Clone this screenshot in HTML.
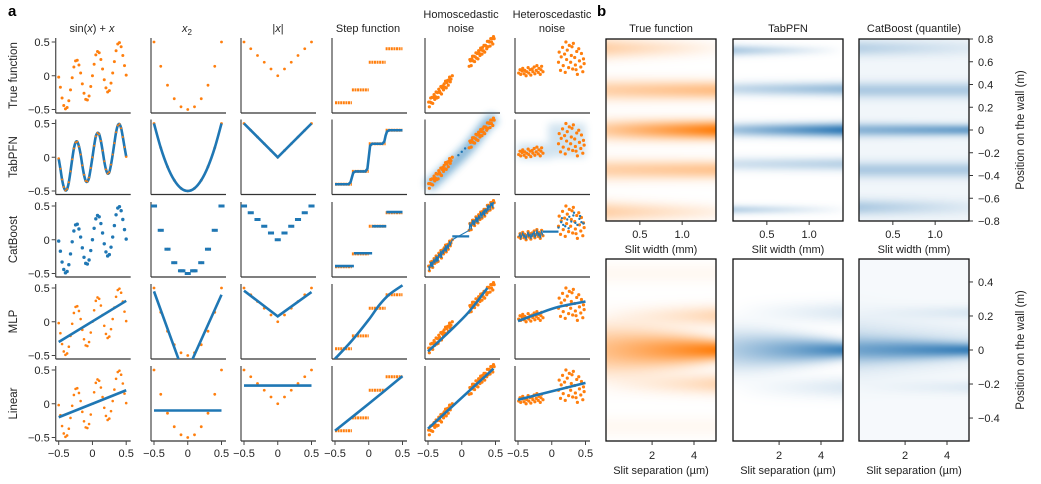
<!DOCTYPE html>
<html><head><meta charset="utf-8"><style>
body{margin:0;background:#fff;}
#wrap{position:relative;width:1041px;height:484px;overflow:hidden;font-family:"Liberation Sans",sans-serif;}
canvas{position:absolute;}
svg{position:absolute;left:0;top:0;}
</style></head><body>
<div id="wrap">
<canvas id="h0" width="110" height="182" style="left:606px;top:39px"></canvas>
<canvas id="h1" width="110" height="182" style="left:733px;top:39px"></canvas>
<canvas id="h2" width="110" height="182" style="left:859px;top:39px"></canvas>
<canvas id="h3" width="110" height="182" style="left:606px;top:259px"></canvas>
<canvas id="h4" width="110" height="182" style="left:733px;top:259px"></canvas>
<canvas id="h5" width="110" height="182" style="left:859px;top:259px"></canvas>
<svg id="s" width="1041" height="484" viewBox="0 0 1041 484"></svg>
</div>
<script>
// ---------- data: panel a ----------
const sinY=[-0.02,-0.17,-0.33,-0.44,-0.49,-0.47,-0.37,-0.21,-0.03,0.13,0.22,0.23,0.16,0.04,-0.12,-0.26,-0.35,-0.36,-0.30,-0.16,0.00,0.17,0.31,0.36,0.34,0.24,0.10,-0.06,-0.18,-0.24,-0.22,-0.11,0.04,0.21,0.37,0.47,0.49,0.43,0.30,0.15,0.01];
const gridX=[-0.5,-0.4,-0.3,-0.2,-0.1,0,0.1,0.2,0.3,0.4,0.5];
const sqY=[0.5,0.14,-0.14,-0.34,-0.46,-0.5,-0.46,-0.34,-0.14,0.14,0.5];
const absY=[0.5,0.4,0.3,0.2,0.1,0,0.1,0.2,0.3,0.4,0.5];
const stepEdges=[-0.5,-0.25,0,0.25,0.5];
const stepLevels=[-0.4,-0.21,0.2,0.4];
const homoX=[-0.49,-0.48,-0.47,-0.46,-0.45,-0.44,-0.43,-0.42,-0.41,-0.40,-0.39,-0.38,-0.37,-0.36,-0.35,-0.34,-0.33,-0.32,-0.31,-0.30,-0.29,-0.28,-0.27,-0.26,-0.25,-0.24,-0.23,-0.22,-0.21,-0.20,-0.19,-0.18,-0.17,-0.16,-0.14,0.11,0.12,0.13,0.14,0.15,0.16,0.17,0.18,0.19,0.20,0.21,0.22,0.23,0.24,0.25,0.26,0.27,0.28,0.29,0.30,0.31,0.32,0.33,0.34,0.35,0.36,0.37,0.38,0.39,0.40,0.41,0.42,0.43,0.44,0.45,0.46,0.47,0.48];
const homoY=[-0.39,-0.46,-0.39,-0.33,-0.40,-0.32,-0.41,-0.32,-0.28,-0.35,-0.31,-0.24,-0.33,-0.25,-0.32,-0.20,-0.23,-0.25,-0.16,-0.27,-0.18,-0.15,-0.21,-0.12,-0.17,-0.08,-0.18,-0.10,-0.07,-0.14,-0.06,-0.02,-0.09,-0.05,0.00,0.14,0.24,0.22,0.15,0.25,0.29,0.22,0.29,0.21,0.28,0.34,0.26,0.33,0.25,0.37,0.33,0.30,0.41,0.38,0.32,0.42,0.37,0.45,0.35,0.45,0.44,0.40,0.51,0.43,0.51,0.50,0.44,0.55,0.50,0.55,0.47,0.58,0.55];
const hetX=[-0.49,-0.47,-0.46,-0.44,-0.43,-0.41,-0.40,-0.38,-0.37,-0.35,-0.34,-0.32,-0.31,-0.29,-0.28,-0.26,-0.25,-0.23,-0.22,-0.20,-0.19,-0.17,-0.16,-0.15,-0.13,0.10,0.11,0.13,0.14,0.16,0.17,0.19,0.20,0.22,0.23,0.25,0.26,0.28,0.29,0.31,0.32,0.34,0.35,0.37,0.38,0.40,0.41,0.43,0.44,0.46,0.47,0.48,0.30,0.21,0.36];
const hetY=[0.04,0.09,0.02,0.07,0.11,0.03,0.08,0.00,0.06,0.12,0.04,0.09,0.01,0.10,0.06,0.13,0.03,0.08,0.15,0.05,0.11,0.02,0.09,0.14,0.06,0.20,0.35,0.08,0.28,0.42,0.15,0.32,0.05,0.24,0.38,0.12,0.45,0.20,0.30,0.10,0.48,0.27,0.16,0.36,0.02,0.40,0.22,0.13,0.33,0.06,0.25,0.18,0.43,0.50,0.09];
const catHetX=[0.10,0.14,0.17,0.20,0.23,0.26,0.29,0.32,0.35,0.38,0.41,0.44,0.47,0.15,0.25,0.33,0.42];
const catHetY=[0.18,0.26,0.22,0.20,0.30,0.34,0.27,0.36,0.25,0.22,0.31,0.26,0.24,0.32,0.17,0.40,0.35];
const tabStepX=[-0.5,-0.3,-0.27,-0.25,-0.23,-0.2,-0.05,-0.02,0,0.02,0.05,0.2,0.23,0.25,0.27,0.3,0.5];
const tabStepY=[-0.4,-0.4,-0.37,-0.3,-0.23,-0.21,-0.21,-0.17,0,0.17,0.2,0.2,0.23,0.32,0.38,0.4,0.4];
const catStepEdges=[-0.5,-0.22,0.05,0.26,0.5];
const catStepLevels=[-0.39,-0.2,0.2,0.41];
const mlpSinX=[-0.5,0.5], mlpSinY=[-0.3,0.31];
const linSinX=[-0.5,0.5], linSinY=[-0.2,0.2];
const mlpSqX=[-0.5,-0.12,0.05,0.5], mlpSqY=[0.45,-0.6,-0.6,0.4];
const linSqX=[-0.5,0.5], linSqY=[-0.1,-0.1];
const mlpAbsX=[-0.5,0,0.5], mlpAbsY=[0.46,0.08,0.44];
const linAbsX=[-0.5,0.5], linAbsY=[0.27,0.27];
const mlpStepX=[-0.5,-0.25,0,0.15,0.3,0.5], mlpStepY=[-0.55,-0.28,0.03,0.24,0.40,0.54];
const linStepX=[-0.5,0,0.5], linStepY=[-0.4,0.0,0.41];
const mlpHomoX=[-0.5,-0.2,0.1,0.38], mlpHomoY=[-0.44,-0.16,0.14,0.5];
const linHomoX=[-0.5,0.47], linHomoY=[-0.37,0.52];
const mlpHetX=[-0.5,-0.2,0.1,0.5], mlpHetY=[0.01,0.12,0.22,0.30];
const linHetX=[-0.5,0.5], linHetY=[0.06,0.31];
const xTicks=[-0.5,0,0.5], xTickLabels=["\u22120.5","0","0.5"];
const yTicks=[0.5,0,-0.5], yTickLabels=["0.5","0","\u22120.5"];
const rowNames=["True function","TabPFN","CatBoost","MLP","Linear"];

// ---------- data: panel b ----------
const topPos=[[0.72,0.35,0,-0.35,-0.72],[0.70,0.36,0,-0.30,-0.70],[0.72,0.35,0,-0.35,-0.68]];
const topAmpL=[[0.35,0.35,0.4,0.35,0.35],[0.35,0.25,0.4,0.2,0.3],[0.25,0.3,0.45,0.3,0.3]];
const topAmpR=[[0.05,0.5,1.0,0.45,0.1],[0.0,0.45,0.9,0.3,0.02],[0.08,0.3,0.6,0.3,0.08]];
const topWL=[[0.09,0.09,0.09,0.09,0.09],[0.05,0.06,0.06,0.06,0.04],[0.07,0.07,0.06,0.07,0.07]];
const topWR=[[0.07,0.08,0.08,0.08,0.07],[0.04,0.06,0.06,0.06,0.04],[0.07,0.07,0.05,0.07,0.07]];
const botPos=[[0,0.2,-0.2,0.45,-0.45],[0,0.22,-0.22],[0,0.02,0.22,-0.22]];
const botAmpL=[[0.5,0,0,0.05,0.05],[0.35,0.0,0.0],[0.4,0.2,0.0,0.0]];
const botAmpR=[[1.0,0.3,0.3,0.05,0.05],[0.85,0.15,0.15],[0.7,0.15,0.12,0.1]];
const botWL=[[0.14,0.06,0.06,0.06,0.06],[0.12,0.06,0.06],[0.07,0.16,0.04,0.04]];
const botWR=[[0.06,0.06,0.06,0.06,0.06],[0.05,0.06,0.06],[0.04,0.1,0.04,0.04]];
const heatBg=[0,0,0.06,0,0,0.04];
const topYTicks=[0.8,0.6,0.4,0.2,0,-0.2,-0.4,-0.6,-0.8];
const topYLabels=["0.8","0.6","0.4","0.2","0","\u22120.2","\u22120.4","\u22120.6","\u22120.8"];
const botYTicks=[0.4,0.2,0,-0.2,-0.4];
const botYLabels=["0.4","0.2","0","\u22120.2","\u22120.4"];
const widthTicks=[0.5,1.0], widthLabels=["0.5","1.0"];
const sepTicks=[2,4], sepLabels=["2","4"];

const OR="#ff7f0e", BL="#1f77b4";
const X0=[58.7,154,244,335,428,518], Y0=[42,123.5,206,288,370];
const sx=(c,v)=>X0[c]+(v+0.5)*67.5;
const sy=(r,v)=>Y0[r]+(0.5-v)*67.5;
const S=document.getElementById('s');
const NS="http://www.w3.org/2000/svg";
function el(tag,attrs,parent){const e=document.createElementNS(NS,tag);for(const k in attrs)e.setAttribute(k,attrs[k]);(parent||S).appendChild(e);return e;}
function txt(x,y,s,size,anchor,extra){const t=el('text',Object.assign({x:x,y:y,'font-size':size,'text-anchor':anchor||'middle',fill:'#222'},extra||{}));t.textContent=s;return t;}
function linX(n){const a=[];for(let i=0;i<n;i++)a.push(-0.5+i/(n-1));return a;}
const sinX=linX(sinY.length);

function smoothPath(c,r,xs,ys){const p=xs.map((x,i)=>[sx(c,x),sy(r,ys[i])]);let d="M"+p[0][0]+","+p[0][1];for(let i=0;i<p.length-1;i++){const p0=p[Math.max(0,i-1)],p1=p[i],p2=p[i+1],p3=p[Math.min(p.length-1,i+2)];d+=" C"+(p1[0]+(p2[0]-p0[0])/6)+","+(p1[1]+(p2[1]-p0[1])/6)+" "+(p2[0]-(p3[0]-p1[0])/6)+","+(p2[1]-(p3[1]-p1[1])/6)+" "+p2[0]+","+p2[1];}return d;}
function line(c,r,xs,ys,name,w){const g=el('g',{'clip-path':'url(#clip'+c+'_'+r+')'});const p=el('path',{d:smoothPath(c,r,xs,ys),fill:'none',stroke:BL,'stroke-width':w||2.6,'stroke-linejoin':'round'},g);

}
function poly(c,r,xs,ys,name,w){const g=el('g',{'clip-path':'url(#clip'+c+'_'+r+')'});const p=el('polyline',{points:xs.map((x,i)=>sx(c,x)+","+sy(r,ys[i])).join(" "),fill:'none',stroke:BL,'stroke-width':w||2.6},g);

}
function dots(c,r,xs,ys,col,rad,name){const g=el('g',{});


xs.forEach((x,i)=>el('circle',{cx:sx(c,x),cy:sy(r,ys[i]),r:rad,fill:col},g));}
function dashes(c,r,xs,ys,half,name){const g=el('g',{});


xs.forEach((x,i)=>el('line',{x1:sx(c,x-half),x2:sx(c,x+half),y1:sy(r,ys[i]),y2:sy(r,ys[i]),stroke:BL,'stroke-width':3},g));}
function steps(c,r,edges,levels,col,name,dash){const g=el('g',{});


levels.forEach((l,i)=>el('line',{x1:sx(c,edges[i]),x2:sx(c,edges[i+1]),y1:sy(r,l),y2:sy(r,l),stroke:col,'stroke-width':dash?3:2.6,'stroke-dasharray':dash?'2 0.6':'none'},g));}

const defs=el('defs',{});
const f=el('filter',{id:'blur',x:'-20%',y:'-20%',width:'140%',height:'140%'},defs);el('feGaussianBlur',{stdDeviation:4},f);
for(let c=0;c<6;c++)for(let r=0;r<5;r++){const cp=el('clipPath',{id:'clip'+c+'_'+r},defs);el('rect',{x:X0[c]-3,y:Y0[r]-4,width:76,height:75},cp);}

const la=txt(8,16,"a",15,'start',{'font-weight':'bold',fill:'#000'});
const lb=txt(597,16,"b",15,'start',{'font-weight':'bold',fill:'#000'});

const t1=el('text',{x:92,y:32,'font-size':11,'text-anchor':'middle',fill:'#222'});t1.innerHTML='sin(<tspan font-style="italic">x</tspan>) + <tspan font-style="italic">x</tspan>';
const t2=el('text',{x:187,y:32,'font-size':11,'text-anchor':'middle',fill:'#222'});t2.innerHTML='<tspan font-style="italic">x</tspan><tspan font-size="8" dy="3">2</tspan>';
const t3=el('text',{x:278,y:32,'font-size':11,'text-anchor':'middle',fill:'#222'});t3.innerHTML='|<tspan font-style="italic">x</tspan>|';
const t4=txt(368,32,"Step function",11);
const t5=txt(461,18,"Homoscedastic",11);
const t5b=txt(461,32,"noise",11);
const t6=txt(552,18,"Heteroscedastic",11);
const t6b=txt(552,32,"noise",11);

rowNames.forEach((n,r)=>{const cy=Y0[r]+33.5;const t=txt(0,0,n,11.5,'middle',{transform:'translate(17,'+cy+') rotate(-90)'});


yTicks.forEach((v,i)=>{el('line',{x1:X0[0]-7,x2:X0[0]-3,y1:sy(r,v),y2:sy(r,v),stroke:'#444','stroke-width':1});
const tl=txt(X0[0]-9,sy(r,v)+4,yTickLabels[i],11,'end');

});});
for(let c=0;c<6;c++)for(let r=0;r<5;r++){
 const g=el('g',{});
 
 
 el('line',{x1:X0[c]-3,x2:X0[c]-3,y1:Y0[r]-4,y2:Y0[r]+71,stroke:'#555','stroke-width':1.3},g);
 el('line',{x1:X0[c]-3,x2:X0[c]+72,y1:Y0[r]+71,y2:Y0[r]+71,stroke:'#333','stroke-width':1.3},g);
 if(r===4){xTicks.forEach((v,i)=>{el('line',{x1:sx(c,v),x2:sx(c,v),y1:Y0[r]+71,y2:Y0[r]+75,stroke:'#444'},g);
  const tl=txt(sx(c,v),Y0[r]+87,xTickLabels[i],11);
  
  });}
}

for(let r=0;r<5;r++){
 dots(0,r,sinX,sinY,OR,r===0?1.5:1.3,'data-sin-r'+r);
 dots(1,r,gridX,sqY,OR,1.4,'data-square-r'+r);
 dots(2,r,gridX,absY,OR,1.4,'data-abs-r'+r);
 steps(3,r,stepEdges,stepLevels,OR,'data-step-r'+r,true);
}
const bandG=el('g',{filter:'url(#blur)',opacity:0.55});


el('path',{d:smoothPath(4,1,mlpHomoX.concat([0.5]),mlpHomoY.concat([0.58])),stroke:BL,'stroke-width':11,fill:'none'},bandG);
const hetBand=el('g',{filter:'url(#blur)',opacity:0.2});


el('rect',{x:sx(5,-0.5),y:sy(1,0.2),width:sx(5,0)-sx(5,-0.5),height:sy(1,-0.03)-sy(1,0.2),fill:BL},hetBand);
el('rect',{x:sx(5,-0.05),y:sy(1,0.5),width:sx(5,0.5)-sx(5,-0.05),height:sy(1,0.0)-sy(1,0.5),fill:BL},hetBand);
for(let r=0;r<5;r++){dots(4,r,homoX,homoY,OR,1.6,'data-homo-r'+r);dots(5,r,hetX,hetY,OR,1.6,'data-het-r'+r);}

line(0,1,sinX,sinY,'tabpfn-sin-line',2.6);
dots(0,1,sinX,sinY,OR,1,'tabpfn-sin-points');
line(1,1,gridX,sqY,'tabpfn-square-line',2.6);
poly(2,1,[-0.5,0,0.5],[0.5,0,0.5],'tabpfn-abs-line',2.6);
poly(3,1,tabStepX,tabStepY,'tabpfn-step-line',2.6);
dots(4,1,[-0.05,0.0,0.05],[0.03,0.08,0.13],BL,1.2,'tabpfn-homo-mean');
dots(0,2,sinX,sinY,BL,1.7,'catboost-sin-points');
dashes(1,2,gridX,sqY,0.045,'catboost-square-dashes');
dashes(1,2,[-0.08,0.08],[-0.46,-0.46],0.045,'catboost-square-extra');
dashes(2,2,gridX,absY,0.045,'catboost-abs-dashes');
steps(3,2,catStepEdges,catStepLevels,BL,'catboost-step-line',false);
poly(4,2,homoX,homoY,'catboost-homo-line',1.1);
poly(4,2,[-0.14,0.11],[0.05,0.05],'catboost-homo-gap',2.2);
poly(5,2,hetX.slice(0,25),hetY.slice(0,25),'catboost-het-left',1.1);
poly(5,2,[-0.13,0.1],[0.12,0.12],'catboost-het-gap',2.2);
dots(5,2,catHetX,catHetY,BL,1.2,'catboost-het-right');
poly(0,3,mlpSinX,mlpSinY,'mlp-sin-line');
poly(1,3,mlpSqX,mlpSqY,'mlp-square-line');
poly(2,3,mlpAbsX,mlpAbsY,'mlp-abs-line');
line(3,3,mlpStepX,mlpStepY,'mlp-step-line');
line(4,3,mlpHomoX,mlpHomoY,'mlp-homo-line');
line(5,3,mlpHetX,mlpHetY,'mlp-het-line');
poly(0,4,linSinX,linSinY,'linear-sin-line');
poly(1,4,linSqX,linSqY,'linear-square-line');
poly(2,4,linAbsX,linAbsY,'linear-abs-line');
line(3,4,linStepX,linStepY,'linear-step-line');
poly(4,4,linHomoX,linHomoY,'linear-homo-line');
poly(5,4,linHetX,linHetY,'linear-het-line');

// ---------- panel b ----------
const HX=[606,733,859], HW=110, HH=182, HY=[39,259];
const titles=["True function","TabPFN","CatBoost (quantile)"];
const cols=[[255,127,14],[31,111,176],[31,111,176]];
function drawHeat(id,xr,yr,pos,aL,aR,wL,wR,bg,col){
 const cv=document.getElementById(id),ctx=cv.getContext('2d'),img=ctx.createImageData(HW,HH);
 for(let j=0;j<HH;j++){const y=yr[1]-(j+0.5)/HH*(yr[1]-yr[0]);
  for(let i=0;i<HW;i++){const t=(i+0.5)/HW;let I=bg;
   for(let k=0;k<pos.length;k++){const a=aL[k]+(aR[k]-aL[k])*t,w=wL[k]+(wR[k]-wL[k])*t;I+=a*Math.exp(-Math.pow((y-pos[k])/w,2));}
   I=Math.min(1,I);const o=(j*HW+i)*4;
   img.data[o]=255+(col[0]-255)*I;img.data[o+1]=255+(col[1]-255)*I;img.data[o+2]=255+(col[2]-255)*I;img.data[o+3]=255;}}
 ctx.putImageData(img,0,0);}
for(let k=0;k<3;k++){
 drawHeat('h'+k,[0.1,1.4],[-0.8,0.8],topPos[k],topAmpL[k],topAmpR[k],topWL[k],topWR[k],heatBg[k],cols[k]);
 drawHeat('h'+(k+3),[-0.2,5.05],[-0.535,0.535],botPos[k],botAmpL[k],botAmpR[k],botWL[k],botWR[k],heatBg[k+3],cols[k]);
 const tt=txt(HX[k]+HW/2,32,titles[k],11);
 for(let r=0;r<2;r++){const fr=el('rect',{x:HX[k],y:HY[r],width:HW,height:HH,fill:'none',stroke:'#111','stroke-width':1.3});
  
  }
 widthTicks.forEach((v,i)=>{const x=HX[k]+(v-0.1)/1.3*HW;el('line',{x1:x,x2:x,y1:221,y2:225,stroke:'#333'});
  const tl=txt(x,238,widthLabels[i],11);});
 const xl=txt(HX[k]+HW/2,253,"Slit width (mm)",11);
 sepTicks.forEach((v,i)=>{const x=HX[k]+(v+0.2)/5.25*HW;el('line',{x1:x,x2:x,y1:441,y2:445,stroke:'#333'});
  const tl=txt(x,459,sepLabels[i],11);});
 const xl2=txt(HX[k]+HW/2,474,"Slit separation (\u00b5m)",11);
}
topYTicks.forEach((v,i)=>{const y=39+(0.8-v)/1.6*HH;el('line',{x1:969,x2:973,y1:y,y2:y,stroke:'#333'});
 const tl=txt(978,y+4,topYLabels[i],11,'start');});
botYTicks.forEach((v,i)=>{const y=259+(0.535-v)/1.07*HH;el('line',{x1:969,x2:973,y1:y,y2:y,stroke:'#333'});
 const tl=txt(978,y+4,botYLabels[i],11,'start');});
const yl1=txt(0,0,"Position on the wall (m)",11.5,'middle',{transform:'translate(1024,130) rotate(-90)'});
const yl2=txt(0,0,"Position on the wall (m)",11.5,'middle',{transform:'translate(1024,350) rotate(-90)'});
</script>
</body></html>
